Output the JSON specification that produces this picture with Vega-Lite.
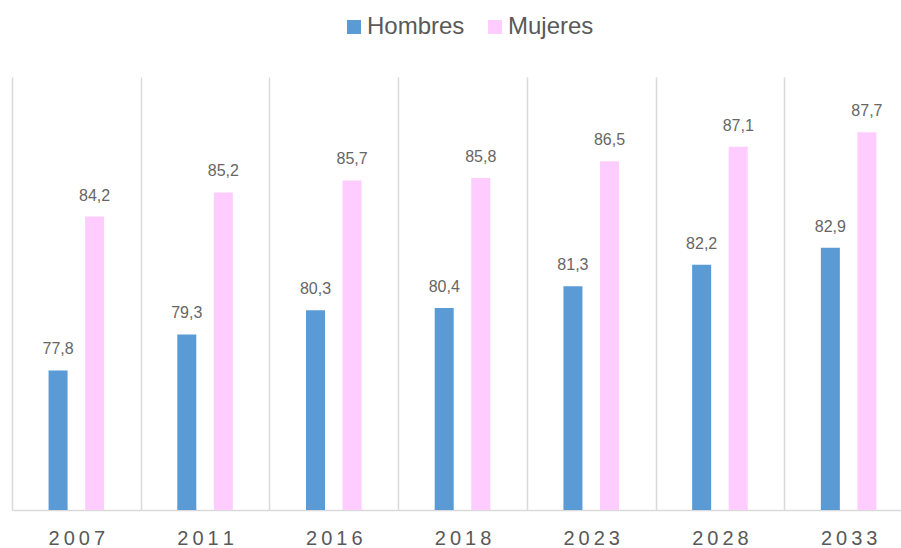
{
  "$schema": "https://vega.github.io/schema/vega-lite/v6.json",
  "width": 901,
  "height": 433,
  "autosize": {"type": "none"},
  "padding": {"left": 12, "top": 77, "right": 0, "bottom": 38},
  "background": "white",
  "config": {
    "view": {"stroke": null},
    "font": "Liberation Sans",
    "locale": {"number": {"decimal": ",", "thousands": ".", "grouping": [3], "currency": ["", " €"]}}
  },
  "data": {
    "values": [
      {"anio": "2007", "sexo": "Hombres", "valor": 77.8},
      {"anio": "2007", "sexo": "Mujeres", "valor": 84.2},
      {"anio": "2011", "sexo": "Hombres", "valor": 79.3},
      {"anio": "2011", "sexo": "Mujeres", "valor": 85.2},
      {"anio": "2016", "sexo": "Hombres", "valor": 80.3},
      {"anio": "2016", "sexo": "Mujeres", "valor": 85.7},
      {"anio": "2018", "sexo": "Hombres", "valor": 80.4},
      {"anio": "2018", "sexo": "Mujeres", "valor": 85.8},
      {"anio": "2023", "sexo": "Hombres", "valor": 81.3},
      {"anio": "2023", "sexo": "Mujeres", "valor": 86.5},
      {"anio": "2028", "sexo": "Hombres", "valor": 82.2},
      {"anio": "2028", "sexo": "Mujeres", "valor": 87.1},
      {"anio": "2033", "sexo": "Hombres", "valor": 82.9},
      {"anio": "2033", "sexo": "Mujeres", "valor": 87.7}
    ]
  },
  "encoding": {
    "x": {
      "field": "anio",
      "type": "nominal",
      "scale": {"paddingInner": 0, "paddingOuter": 0},
      "axis": {
        "title": null,
        "labelAngle": 0,
        "ticks": false,
        "labelPadding": 18,
        "labelFontSize": 20,
        "labelColor": "#595959",
        "labelExpr": "join(split(datum.label, ''), '\u2009')",
        "domainColor": "#d9d9d9",
        "domainWidth": 1.5,
        "grid": true,
        "gridColor": "#d9d9d9",
        "gridWidth": 1.5,
        "tickBand": "extent"
      }
    },
    "xOffset": {
      "field": "sexo",
      "type": "nominal",
      "scale": {"domain": ["Hombres", "Mujeres"], "paddingInner": 0.48, "paddingOuter": 1.16}
    },
    "y": {
      "field": "valor",
      "type": "quantitative",
      "scale": {"domain": [72, 90], "zero": false, "nice": false},
      "axis": null
    }
  },
  "layer": [
    {
      "mark": {"type": "bar"},
      "encoding": {
        "y2": {"datum": 72},
        "color": {
          "field": "sexo",
          "type": "nominal",
          "scale": {"domain": ["Hombres", "Mujeres"], "range": ["#5b9bd5", "#ffccff"]},
          "legend": {
            "title": null,
            "orient": "none",
            "direction": "horizontal",
            "legendX": 330,
            "legendY": -62,
            "symbolType": "square",
            "symbolSize": 196,
            "symbolStrokeWidth": 0,
            "labelFontSize": 24,
            "labelColor": "#595959",
            "labelOffset": 1,
            "columnPadding": 18,
            "padding": 0
          }
        }
      }
    },
    {
      "mark": {"type": "text", "baseline": "bottom", "dy": -13, "fontSize": 16, "color": "#666666"},
      "encoding": {
        "text": {"field": "valor", "type": "quantitative", "format": ".1f"}
      }
    }
  ]
}
